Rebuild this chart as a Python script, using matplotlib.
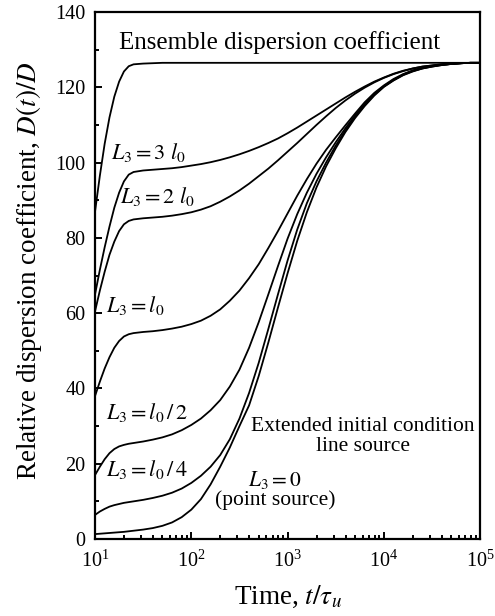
import numpy as np
import matplotlib
matplotlib.use("Agg")
import matplotlib.pyplot as plt
from matplotlib.ticker import FixedLocator, LogLocator, NullFormatter

plt.rcParams['font.family'] = ['Liberation Serif', 'DejaVu Serif']
plt.rcParams['mathtext.fontset'] = 'stix'

# time axis as log10(t / tau_u)
log_t = [1.0, 1.05, 1.1, 1.15, 1.2, 1.25, 1.3, 1.35, 1.4,
         1.5, 1.6, 1.7, 1.8, 1.9, 2.0, 2.1, 2.2, 2.3, 2.4, 2.5, 2.6, 2.7, 2.8, 2.9,
         3.0, 3.1, 3.2, 3.3, 3.4, 3.5, 3.6, 3.7, 3.8, 3.9,
         4.0, 4.1, 4.2, 4.3, 4.4, 4.5, 4.6, 4.7, 4.8, 4.9, 5.0]

ensemble = [87, 96.5, 105, 112, 117.5, 121.5, 124.2, 125.6, 126.1,
            126.3, 126.4, 126.5, 126.5, 126.5, 126.5, 126.5, 126.5, 126.5, 126.5, 126.5,
            126.5, 126.5, 126.5, 126.5, 126.5, 126.5, 126.5, 126.5, 126.5, 126.5,
            126.5, 126.5, 126.5, 126.5, 126.5, 126.5, 126.5, 126.5, 126.5, 126.5,
            126.5, 126.5, 126.5, 126.5, 126.5]
l3_3l0 = [65, 71.5, 77.5, 83, 88, 92, 95, 96.8, 97.5,
          97.9, 98.1, 98.3, 98.5, 98.8, 99.2, 99.6, 100.1, 100.7, 101.4, 102.2,
          103.1, 104.1, 105.2, 106.4, 107.8, 109.3, 110.9, 112.5, 114.1, 115.7,
          117.3, 118.8, 120.2, 121.5, 122.6, 123.6, 124.4, 125.0, 125.5, 125.8,
          126.1, 126.3, 126.4, 126.5, 126.5]
l3_2l0 = [60.5, 66, 71, 75.5, 79, 81.8, 83.6, 84.5, 84.9,
          85.2, 85.4, 85.6, 85.9, 86.3, 86.8, 87.5, 88.4, 89.6, 91, 92.6,
          94.4, 96.4, 98.4, 100.6, 102.9, 105.2, 107.6, 110, 112.3, 114.5,
          116.5, 118.3, 119.9, 121.3, 122.5, 123.5, 124.3, 125.0, 125.5, 125.8,
          126.1, 126.3, 126.4, 126.5, 126.5]
l3_l0 = [38, 41.8, 45.3, 48.3, 50.8, 52.6, 53.8, 54.4, 54.7,
         55, 55.2, 55.5, 55.9, 56.4, 57.1, 58, 59.3, 61, 63.3, 66,
         69.3, 73, 77.3, 81.8, 86.5, 91.2, 95.6, 99.7, 103.4, 106.7,
         109.9, 113, 116, 118.5, 120.5, 122.2, 123.5, 124.5, 125.2, 125.7,
         126, 126.2, 126.4, 126.5, 126.5]
l3_half = [17, 19.2, 21.2, 22.8, 23.9, 24.6, 25, 25.3, 25.5,
           25.9, 26.4, 27, 27.8, 28.9, 30.3, 32, 34.2, 36.9, 40.5, 45,
           50.8, 57.6, 65, 72.5, 79.8, 86.3, 92, 97, 101.4, 105.4,
           109.1, 112.5, 115.5, 118.2, 120.3, 122, 123.4, 124.4, 125.1, 125.6,
           126, 126.2, 126.4, 126.5, 126.5]
l3_quarter = [6.4, 7.3, 8, 8.6, 9, 9.3, 9.6, 9.8, 10,
              10.4, 10.9, 11.5, 12.3, 13.4, 14.9, 16.8, 19.2, 22.3, 26.5, 32,
              38.8, 46.8, 55.8, 65, 74, 82.2, 89.2, 95, 100, 104.5,
              108.5, 112.1, 115.3, 118, 120.2, 121.9, 123.3, 124.3, 125, 125.5,
              125.9, 126.2, 126.4, 126.5, 126.5]
point_source = [1.3, 1.4, 1.5, 1.6, 1.7, 1.8, 1.9, 2.05, 2.2,
                2.5, 2.9, 3.5, 4.4, 5.8, 7.8, 10.6, 14.5, 19.2, 24.3, 30,
                35.5, 43.3, 52.2, 61.5, 70.6, 79.2, 86.8, 93.4, 99, 103.8,
                108.1, 111.8, 115, 117.8, 120.1, 121.8, 123.2, 124.2, 125, 125.5,
                125.9, 126.2, 126.4, 126.5, 126.5]

y_ticks = [0, 20, 40, 60, 80, 100, 120, 140]
y_minor = [10, 30, 50, 70, 90, 110, 130]

t = 10.0 ** np.array(log_t)

fig = plt.figure(figsize=(4.95, 6.16), dpi=100)
ax = fig.add_axes([0.192, 0.125, 0.778, 0.8555])

for series in [ensemble, l3_3l0, l3_2l0, l3_l0, l3_half, l3_quarter, point_source]:
    ax.plot(t, series, color='black', linewidth=1.3)

ax.set_xscale('log')
ax.set_xlim(10, 1e5)
ax.set_ylim(0, 140)
ax.yaxis.set_major_locator(FixedLocator(y_ticks))
ax.yaxis.set_minor_locator(FixedLocator(y_minor))
ax.xaxis.set_major_locator(LogLocator(base=10))
ax.xaxis.set_minor_locator(LogLocator(base=10, subs=np.arange(2, 10)))
ax.xaxis.set_minor_formatter(NullFormatter())

ax.tick_params(which='both', direction='in', top=False, right=False,
               labelsize=14.5, width=1.4)
ax.tick_params(which='major', length=5)
ax.tick_params(which='minor', length=3)
ax.tick_params(axis='y', which='major', pad=7)
ax.tick_params(axis='x', which='major', pad=8)
for s in ax.spines.values():
    s.set_linewidth(1.6)

ax.set_xlabel(r'Time, $t/\tau_u$', fontsize=19.5, labelpad=9)
ax.set_ylabel(r'Relative dispersion coefficient, $D(t)/D$', fontsize=19.5, labelpad=7)
ax.yaxis.set_label_coords(-0.133, 0.51)

# annotations
ax.text(10 ** 2.92, 132, 'Ensemble dispersion coefficient', fontsize=18,
        ha='center', va='center')
ax.text(10 ** 1.17, 102.7, r'$L_3 = 3\ l_0$', fontsize=16, ha='left', va='center')
ax.text(10 ** 1.26, 91, r'$L_3 = 2\ l_0$', fontsize=16, ha='left', va='center')
ax.text(10 ** 1.11, 62, r'$L_3 = l_0$', fontsize=16, ha='left', va='center')
ax.text(10 ** 1.11, 33.5, r'$L_3 = l_0\,/\,2$', fontsize=16, ha='left', va='center')
ax.text(10 ** 1.11, 18.4, r'$L_3 = l_0\,/\,4$', fontsize=16, ha='left', va='center')
ax.text(10 ** 2.87, 15.7, r'$L_3 = 0$', fontsize=15.5, ha='center', va='center')
ax.text(10 ** 2.87, 10.2, '(point source)', fontsize=15.5, ha='center', va='center')
ax.text(10 ** 3.78, 30, 'Extended initial condition', fontsize=15.5, ha='center', va='center')
ax.text(10 ** 3.78, 24.5, 'line source', fontsize=15.5, ha='center', va='center')

fig.savefig('out.png', dpi=100)
